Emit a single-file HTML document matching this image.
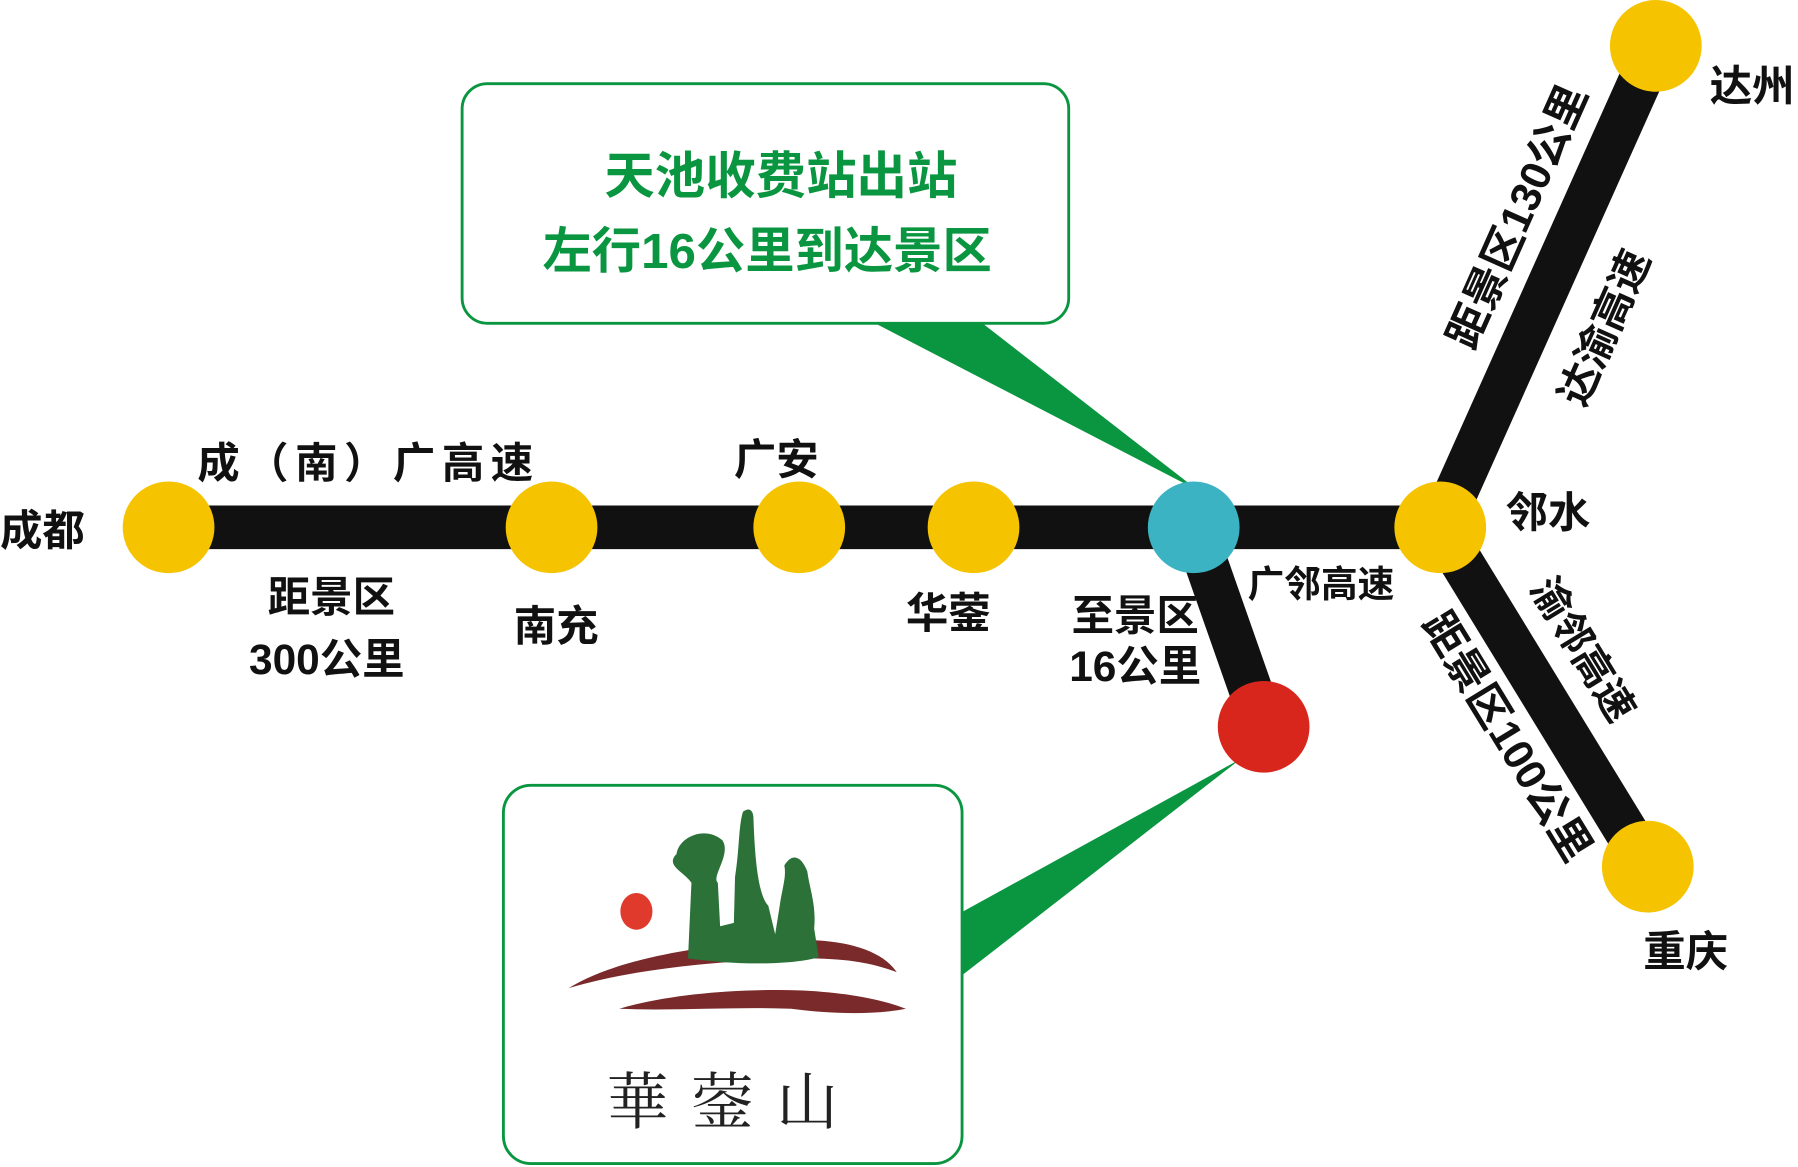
<!DOCTYPE html>
<html><head><meta charset="utf-8"><style>
html,body{margin:0;padding:0;background:#fff;}
svg{display:block;}
text{font-family:"Liberation Sans","Noto Sans CJK SC",sans-serif;font-weight:bold;}
</style></head><body>
<svg width="1798" height="1167" viewBox="0 0 1568 1018" preserveAspectRatio="none" xmlns="http://www.w3.org/2000/svg">
<rect width="1568" height="1018" fill="#fff"/>
<polygon points="765,283 858,283 1045,428" fill="#0a9640"/>
<polygon points="840,795 840,850 1082,662" fill="#0a9640"/>
<g stroke="#111" stroke-width="38" stroke-linecap="butt">
<line x1="147" y1="460" x2="1256" y2="460"/>
<line x1="1041" y1="460" x2="1102" y2="634"/>
<line x1="1256" y1="460" x2="1444" y2="40"/>
<line x1="1256" y1="460" x2="1437" y2="756"/>
</g>
<g fill="#f5c300">
<circle cx="147" cy="460" r="40"/>
<circle cx="481" cy="460" r="40"/>
<circle cx="697" cy="460" r="40"/>
<circle cx="849" cy="460" r="40"/>
<circle cx="1256" cy="460" r="40"/>
<circle cx="1444" cy="40" r="40"/>
<circle cx="1437" cy="756" r="40"/>
</g>
<circle cx="1041" cy="460" r="40" fill="#3bb3c3"/>
<circle cx="1102" cy="634" r="40" fill="#d9261c"/>
<rect x="403" y="73" width="529" height="209" rx="22" fill="#fff" stroke="#0a9640" stroke-width="2.5"/>
<text x="681" y="169" font-size="44" fill="#0a9640" text-anchor="middle">天池收费站出站</text>
<text x="669" y="234" font-size="43" fill="#0a9640" text-anchor="middle">左行16公里到达景区</text>
<rect x="439" y="685" width="400" height="330" rx="24" fill="#fff" stroke="#0a9640" stroke-width="2.5"/>
<path d="M496,862 C540,835 620,822 700,820 C740,820 770,830 782,848 C760,840 740,836 700,836 C620,838 550,846 496,862 Z" fill="#7a2a2a"/>
<path d="M540,880 C580,868 640,862 700,864 C740,866 770,872 790,880 C760,886 720,884 690,880 C640,878 590,882 540,880 Z" fill="#7a2a2a"/>
<ellipse cx="555" cy="795" rx="14" ry="16" fill="#e03a2c"/>
<path d="M600,836 L603,770 C596,760 580,755 590,745 C592,730 615,720 630,733 C638,745 620,765 626,770 L628,808 L640,805 L641,765 C645,740 644,720 648,708 C652,705 656,705 657,712 C658,740 660,780 670,790 L676,815 L680,790 C682,775 686,765 684,755 C690,745 698,745 704,760 C706,775 712,790 710,810 L714,835 C690,842 640,842 600,836 Z" fill="#2b7138"/>
<text x="640" y="980" font-size="54" fill="#222" text-anchor="middle" style="font-family:'Noto Serif CJK SC',serif;font-weight:normal;letter-spacing:20px">華蓥山</text>
<g font-size="37" fill="#111">
<text x="0" y="476">成都</text>
<text x="172" y="417" textLength="293" lengthAdjust="spacing">成（南）广高速</text>
<text x="289" y="534" text-anchor="middle">距景区</text>
<text x="285" y="588" text-anchor="middle">300公里</text>
<text x="485" y="559" text-anchor="middle">南充</text>
<text x="677" y="414" text-anchor="middle">广安</text>
<text x="827" y="548" text-anchor="middle">华蓥</text>
<text x="990" y="550" text-anchor="middle">至景区</text>
<text x="990" y="594" text-anchor="middle">16公里</text>
<text x="1350" y="460" text-anchor="middle">邻水</text>
<text x="1528" y="88" text-anchor="middle">达州</text>
<text x="1470" y="843" text-anchor="middle">重庆</text>
</g>
<text x="1152" y="521" font-size="32" fill="#111" text-anchor="middle">广邻高速</text>
<text transform="translate(1326,190) rotate(-66)" font-size="37" fill="#111" text-anchor="middle" dominant-baseline="middle">距景区130公里</text>
<text transform="translate(1402,287) rotate(-66)" font-size="36" fill="#111" text-anchor="middle" dominant-baseline="middle">达渝高速</text>
<text transform="translate(1312,644) rotate(58.6)" font-size="37" fill="#111" text-anchor="middle" dominant-baseline="middle">距景区100公里</text>
<text transform="translate(1378,568) rotate(58.6)" font-size="35" fill="#111" text-anchor="middle" dominant-baseline="middle">渝邻高速</text>
</svg>
</body></html>
